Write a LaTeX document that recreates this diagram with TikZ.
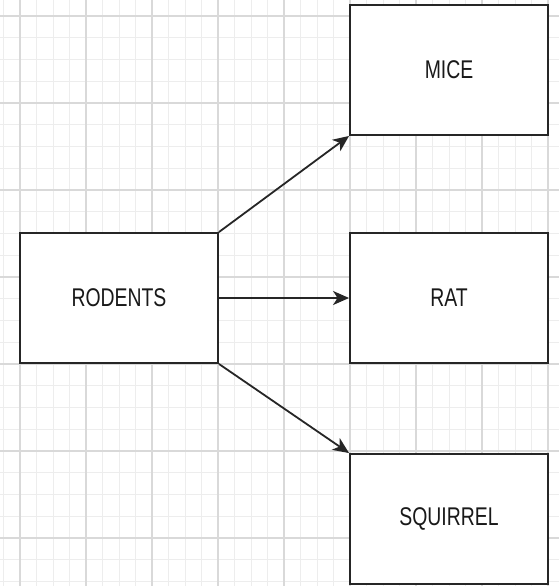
\documentclass[tikz,border=0pt]{standalone}
\usepackage{fontspec}
\setmainfont{Liberation Sans}
\usetikzlibrary{arrows.meta}
\begin{document}
\begin{tikzpicture}[x=1pt,y=-1pt,
  box/.style={draw=black!85,line width=1.9pt,fill=white,minimum width=198pt,minimum height=130pt,inner sep=0pt,text=black!90,font=\fontsize{19.4}{22}\selectfont},
  conn/.style={draw=black!85,line width=1.8pt,-{Stealth[length=16pt,width=14pt,inset=4.5pt]}},
  minorgrid/.style={draw=black!7,line width=0.9pt},
  majorgrid/.style={draw=black!15,line width=1.2pt}]
\useasboundingbox (0,0) rectangle (559,586);
\fill[white] (0,0) rectangle (559,586);
\foreach \i in {0,...,33} \draw[minorgrid] ({3.5+16.5*\i},0) -- ({3.5+16.5*\i},586);
\foreach \j in {1,...,27} \draw[minorgrid] (0,{-5.75+21.75*\j}) -- (559,{-5.75+21.75*\j});
\foreach \i in {0,...,8} \draw[majorgrid] ({20+66*\i},0) -- ({20+66*\i},586);
\foreach \j in {0,...,6} \draw[majorgrid] (0,{16+87*\j}) -- (559,{16+87*\j});
\node[box] (rodents) at (119,298) {\scalebox{1}[1.32]{RODENTS}};
\node[box] (mice) at (449,70) {\scalebox{1}[1.32]{MICE}};
\node[box] (rat) at (449,298) {\scalebox{1}[1.32]{RAT}};
\node[box] (squirrel) at (449,519) {\scalebox{1}[1.32]{SQUIRREL}};
\draw[conn] (rodents.north east) -- (mice.south west);
\draw[conn] (rodents.east) -- (rat.west);
\draw[conn] (rodents.south east) -- (squirrel.north west);
\end{tikzpicture}
\end{document}
